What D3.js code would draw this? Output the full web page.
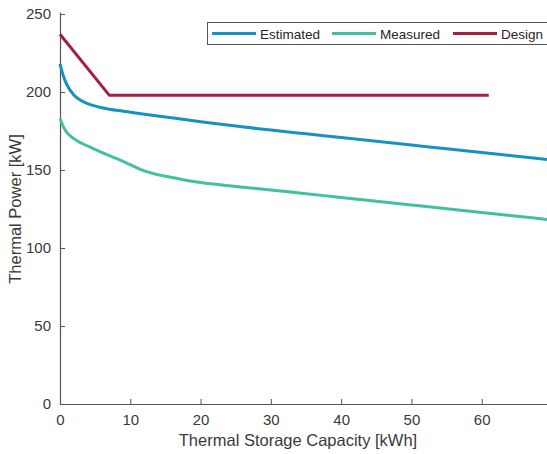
<!DOCTYPE html>
<html>
<head>
<meta charset="utf-8">
<script src="https://cdn.jsdelivr.net/npm/d3@7"></script>
<style>
  body { margin: 0; background: #fff; }
  svg { display: block; font-family: "Liberation Sans", Arial, sans-serif; }
  .axis path, .axis line { stroke: #555; }
  .axis text { fill: #3a3a3a; font-size: 15px; }
</style>
</head>
<body>
<svg id="chart" width="547" height="454"></svg>
<script>
// capacity [kWh] vs power [kW]
const estimatedX = [0, 0.5, 1, 2, 3, 4, 5.5, 7, 9, 11, 15, 20, 25, 30, 35, 40, 45, 50, 55, 60, 65, 70];
const estimatedY = [218, 210, 204.5, 198, 194.6, 192.4, 190.4, 189, 187.7, 186.4, 184, 181, 178.2, 175.6, 173.2, 170.8, 168.4, 166, 163.6, 161.2, 158.8, 156.4];

const measuredX = [0, 0.5, 1, 2, 3, 4.5, 6, 8, 10, 12, 13.5, 15, 17.5, 20, 25, 30, 35, 40, 45, 50, 55, 60, 65, 70];
const measuredY = [183, 177.5, 174, 170, 167.3, 164.2, 161.2, 157.4, 153.4, 149.4, 147.4, 146, 143.8, 142, 139.5, 137.2, 134.8, 132.4, 130, 127.6, 125.2, 122.8, 120.4, 118];

const designX = [0, 7, 61];
const designY = [237, 198, 198];

const seriesNames = ['Estimated', 'Measured', 'Design'];
const seriesColors = ['#1592c2', '#45bfa3', '#a3213f'];

const xTicks = [0, 10, 20, 30, 40, 50, 60];
const yTicks = [0, 50, 100, 150, 200, 250];

const svg = d3.select('#chart');
const margin = { top: 12, left: 60, bottom: 50 };
const h = 454;

const x = d3.scaleLinear().domain([0, 70]).range([margin.left, margin.left + 492]);
const y = d3.scaleLinear().domain([0, 251.3]).range([h - margin.bottom, margin.top]);

const zip = (xs, ys) => xs.map((v, i) => ({ x: v, y: ys[i] }));
const series = [
  { name: seriesNames[0], color: seriesColors[0], pts: zip(estimatedX, estimatedY), curve: d3.curveMonotoneX },
  { name: seriesNames[1], color: seriesColors[1], pts: zip(measuredX, measuredY), curve: d3.curveMonotoneX },
  { name: seriesNames[2], color: seriesColors[2], pts: zip(designX, designY), curve: d3.curveLinear }
];

// axes, ticks pointing inward like matlab
svg.append('g')
  .attr('class', 'axis')
  .attr('transform', `translate(0,${y(0)})`)
  .call(d3.axisBottom(x).tickValues(xTicks).tickSizeInner(-5).tickSizeOuter(0).tickPadding(10));

svg.append('g')
  .attr('class', 'axis')
  .attr('transform', `translate(${x(0)},0)`)
  .call(d3.axisLeft(y).tickValues(yTicks).tickSizeInner(-5).tickSizeOuter(0).tickPadding(9));

svg.selectAll('.axis .domain').attr('stroke-width', 1.2);

const line = d3.line().x(d => x(d.x)).y(d => y(d.y));

svg.append('g')
  .selectAll('path')
  .data(series)
  .join('path')
  .attr('fill', 'none')
  .attr('stroke', d => d.color)
  .attr('stroke-width', 3)
  .attr('stroke-linejoin', 'round')
  .attr('d', d => line.curve(d.curve)(d.pts));

// labels
svg.append('text')
  .attr('x', 298)
  .attr('y', 446)
  .attr('text-anchor', 'middle')
  .attr('fill', '#3a3a3a')
  .style('font-size', '16.5px')
  .text('Thermal Storage Capacity [kWh]');

svg.append('text')
  .attr('transform', `translate(21,${(y(0) + y(250)) / 2}) rotate(-90)`)
  .attr('text-anchor', 'middle')
  .attr('fill', '#3a3a3a')
  .style('font-size', '16.5px')
  .text('Thermal Power [kW]');

// legend
const legend = svg.append('g');
legend.append('rect')
  .attr('x', 207.5)
  .attr('y', 22.5)
  .attr('width', 360)
  .attr('height', 22)
  .attr('fill', '#fff')
  .attr('stroke', '#555');

const legendX = [212, 332, 453];
series.forEach((s, i) => {
  legend.append('line')
    .attr('x1', legendX[i]).attr('x2', legendX[i] + 44)
    .attr('y1', 33.5).attr('y2', 33.5)
    .attr('stroke', s.color)
    .attr('stroke-width', 3);
  legend.append('text')
    .attr('x', legendX[i] + 48)
    .attr('y', 38.5)
    .attr('fill', '#262626')
    .style('font-size', '13.5px')
    .text(s.name);
});
</script>
</body>
</html>
